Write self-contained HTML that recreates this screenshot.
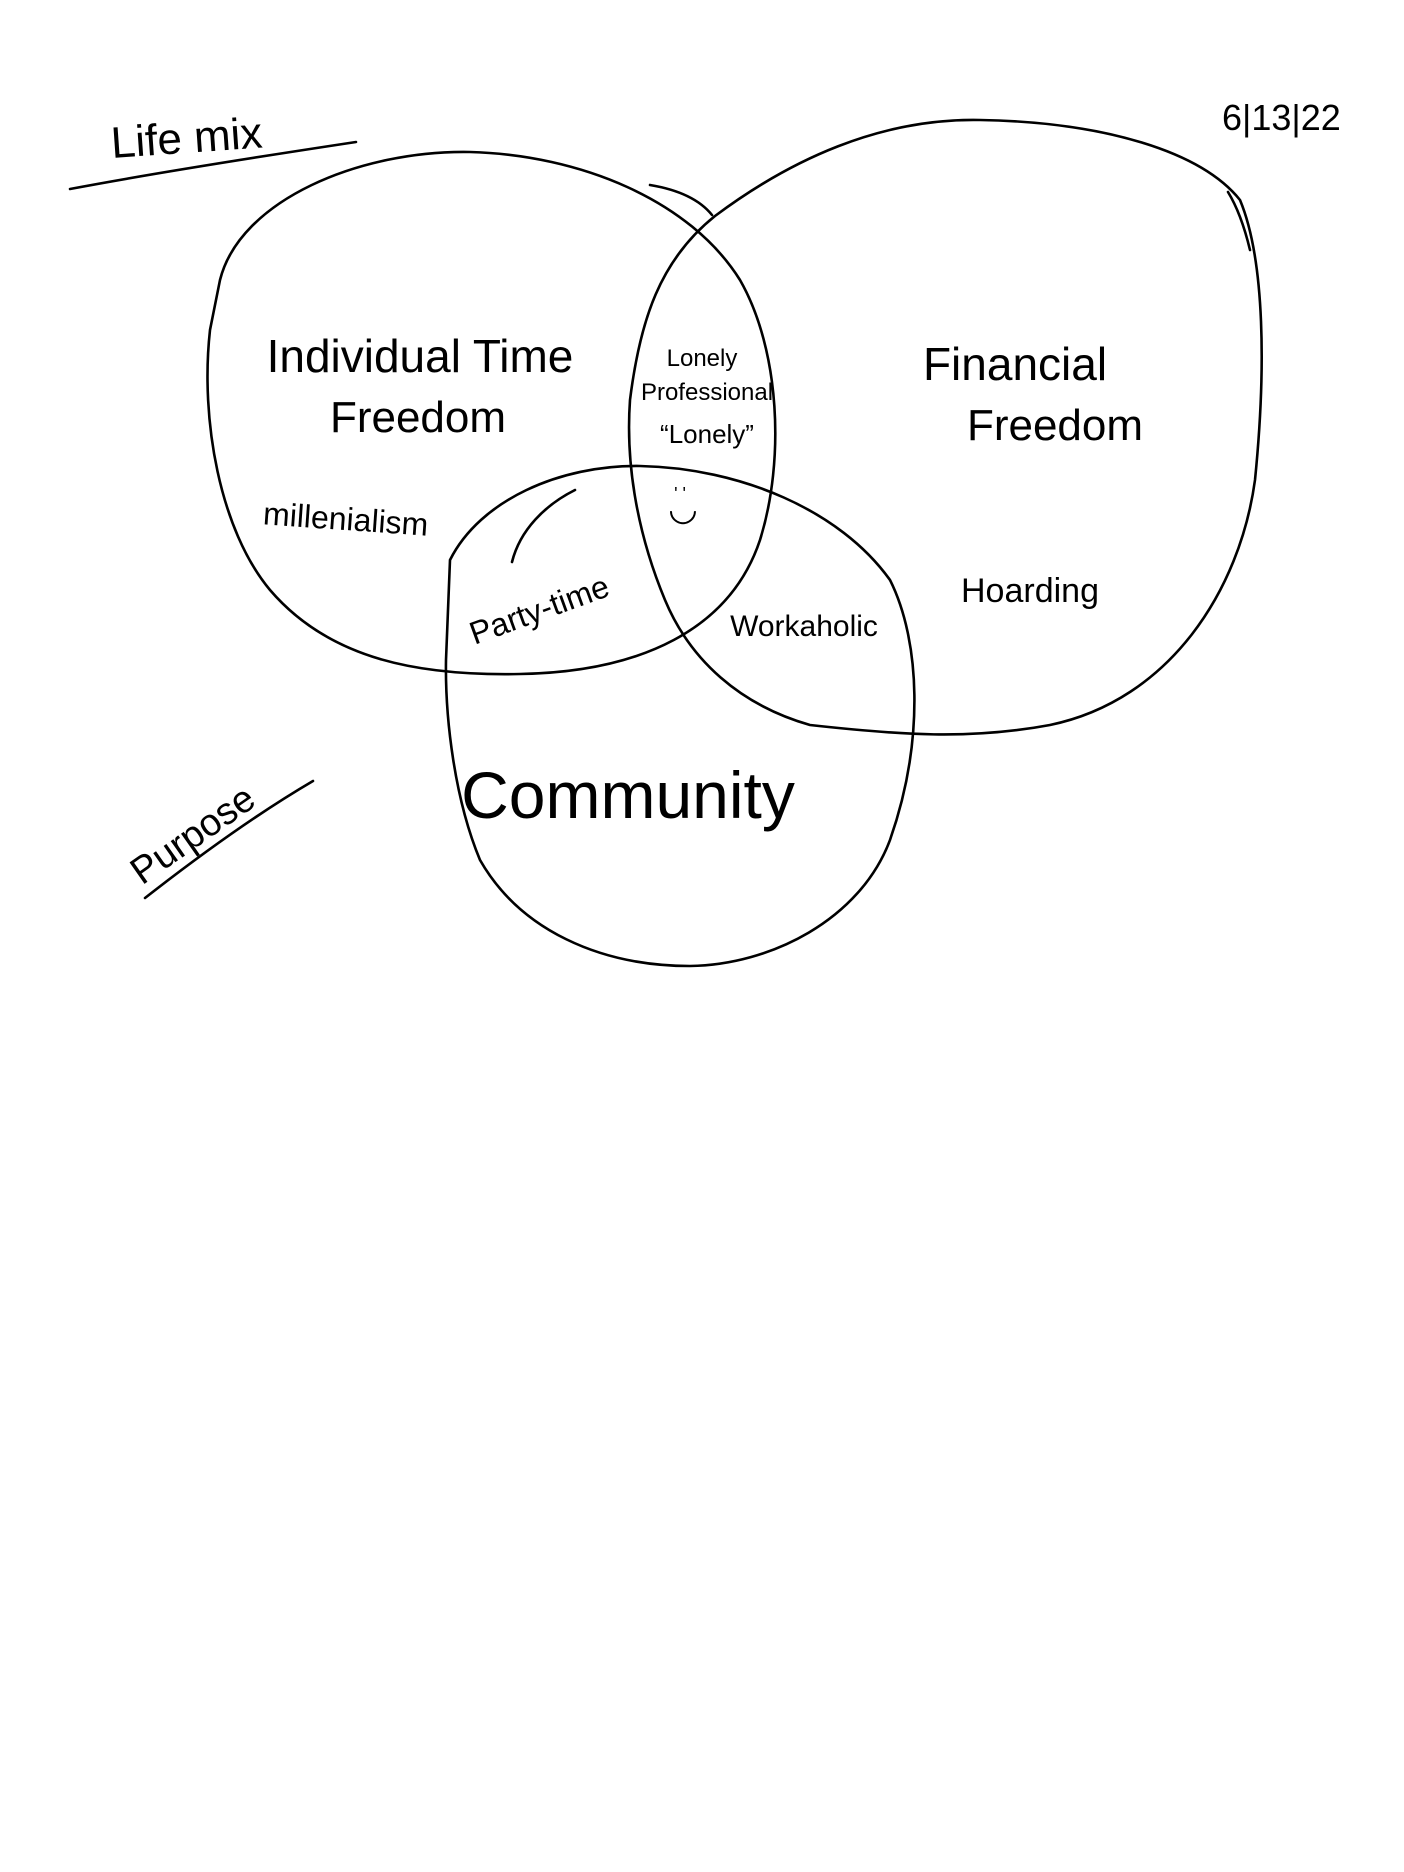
<!DOCTYPE html>
<html><head><meta charset="utf-8"><style>
html,body{margin:0;padding:0;background:#fff;}
svg{display:block}
text{font-family:"Liberation Sans",sans-serif;fill:#000;}
</style></head><body>
<svg width="1404" height="1872" viewBox="0 0 1404 1872" xmlns="http://www.w3.org/2000/svg">
<g fill="none" stroke="#000" stroke-width="2.6" stroke-linecap="round">
<path d="M220,280 C240,200 360,150 470,152 C580,155 690,200 740,280 C780,350 785,460 760,540 C730,630 640,672 520,674 C420,676 330,660 270,590 C220,530 200,420 210,330 Z"/>
<path d="M650,185 C680,190 700,200 712,215"/>
<path d="M715,216 C790,160 880,118 980,120 C1100,122 1200,150 1240,200 C1265,260 1266,370 1255,480 C1240,590 1170,700 1050,725 C970,740 900,735 810,725 C740,705 690,660 665,600 C640,540 625,470 630,400 C640,320 660,260 715,216 Z"/>
<path d="M1228,192 C1236,205 1244,225 1250,250"/>
<path d="M450,560 C480,500 560,465 640,466 C740,468 840,510 890,580 C920,640 925,740 890,840 C860,920 770,965 690,966 C600,966 520,930 480,860 C455,800 445,720 446,660 Z"/>
<path d="M512,562 C520,530 545,505 575,490"/>
<path d="M70,189 C160,172 270,155 356,142"/>
<path d="M145,898 C200,855 260,812 313,781"/>
</g>
<text x="112" y="158" font-size="44" transform="rotate(-4 112 158)">Life mix</text>
<text x="1222" y="130" font-size="36">6|13|22</text>
<text x="420" y="372" font-size="46" text-anchor="middle">Individual Time</text>
<text x="418" y="432" font-size="44" text-anchor="middle">Freedom</text>
<text x="345" y="530" font-size="32" text-anchor="middle" transform="rotate(4 345 530)">millenialism</text>
<text x="702" y="366" font-size="24" text-anchor="middle">Lonely</text>
<text x="707" y="400" font-size="24" text-anchor="middle">Professional</text>
<text x="707" y="443" font-size="26" text-anchor="middle">“Lonely”</text>
<text x="683" y="520" font-size="34" text-anchor="middle">◡</text>
<text x="680" y="500" font-size="18" text-anchor="middle">' '</text>
<text x="1015" y="380" font-size="46" text-anchor="middle">Financial</text>
<text x="1055" y="440" font-size="44" text-anchor="middle">Freedom</text>
<text x="1030" y="602" font-size="34" text-anchor="middle">Hoarding</text>
<text x="543" y="620" font-size="32" text-anchor="middle" transform="rotate(-20 543 620)">Party-time</text>
<text x="804" y="636" font-size="30" text-anchor="middle">Workaholic</text>
<text x="628" y="818" font-size="66" text-anchor="middle">Community</text>
<text x="200" y="845" font-size="38" text-anchor="middle" transform="rotate(-35 200 845)">Purpose</text>
</svg>
</body></html>
